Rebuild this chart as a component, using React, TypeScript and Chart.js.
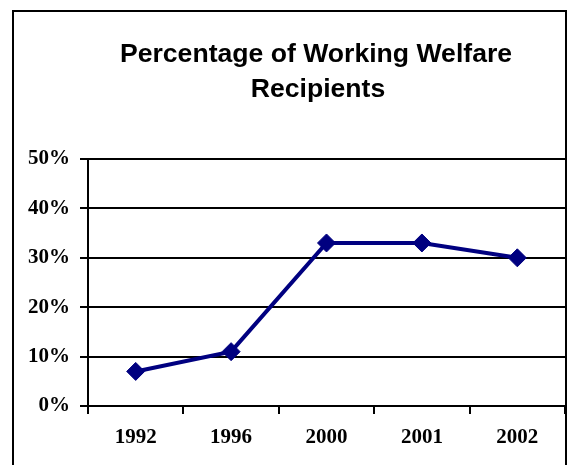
import React, { useEffect, useRef } from "react";
import { Chart, registerables } from "chart.js";

Chart.register(...registerables);

const categories = ["1992", "1996", "2000", "2001", "2002"];
const workingPct = [7, 11, 33, 33, 30];
const yTicks = [0, 10, 20, 30, 40, 50];
const titleLines = ["Percentage of Working Welfare", "Recipients"];

const framePlugin = {
  id: "frameAndTitle",
  beforeDraw(chart: any) {
    const ctx = chart.ctx;
    ctx.save();
    ctx.fillStyle = "#ffffff";
    ctx.fillRect(0, 0, chart.width, chart.height);
    ctx.restore();
  },
  afterDraw(chart: any) {
    const ctx = chart.ctx;
    ctx.save();
    ctx.strokeStyle = "#000000";
    ctx.lineWidth = 2;
    ctx.strokeRect(13, 11, 553, chart.height + 20);
    ctx.fillStyle = "#000000";
    ctx.font = "bold 26.6px 'Liberation Sans', Arial, sans-serif";
    ctx.textAlign = "center";
    ctx.textBaseline = "alphabetic";
    ctx.fillText(titleLines[0], 316, 62);
    ctx.fillText(titleLines[1], 318, 97);
    ctx.restore();
  },
};

export default function App() {
  const ref = useRef<HTMLCanvasElement | null>(null);
  useEffect(() => {
    if (!ref.current) return;
    const tickFont = { family: "'Liberation Serif', 'Times New Roman', serif", weight: "bold" as const, size: 21 };
    const chart = new Chart(ref.current, {
      type: "line",
      data: {
        labels: categories,
        datasets: [
          {
            data: workingPct,
            borderColor: "#000080",
            backgroundColor: "#000080",
            borderWidth: 4,
            tension: 0,
            pointStyle: "rectRot",
            pointRadius: 9,
            pointHoverRadius: 9,
            pointBackgroundColor: "#000080",
            pointBorderColor: "#000080",
            pointBorderWidth: 1,
            clip: false as any,
          },
        ],
      },
      options: {
        responsive: false,
        animation: false,
        layout: { autoPadding: false, padding: { top: 159, right: 3, left: 0, bottom: 0 } },
        plugins: {
          legend: { display: false },
          title: { display: false },
          tooltip: { enabled: false },
        },
        scales: {
          x: {
            offset: true,
            afterFit(scale: any) {
              scale.height = 59;
              scale.paddingLeft = 0;
              scale.paddingRight = 0;
            },
            grid: {
              offset: true,
              drawOnChartArea: false,
              drawTicks: true,
              tickLength: 8,
              color: "#000000",
              lineWidth: 2,
            },
            border: { display: true, color: "#000000", width: 2 },
            ticks: { color: "#000000", font: tickFont, padding: 11, maxRotation: 0 },
          },
          y: {
            min: yTicks[0],
            max: yTicks[yTicks.length - 1],
            afterFit(scale: any) {
              scale.width = 88;
              scale.paddingTop = 0;
              scale.paddingBottom = 0;
            },
            afterBuildTicks(scale: any) {
              scale.ticks = yTicks.map((v) => ({ value: v }));
            },
            grid: {
              color: "#000000",
              lineWidth: 2,
              tickLength: 8,
              drawTicks: true,
            },
            border: { display: true, color: "#000000", width: 2 },
            ticks: {
              color: "#000000",
              font: tickFont,
              padding: 10,
              callback: (v: any) => v + "%",
            },
          },
        },
      },
      plugins: [framePlugin],
    });
    return () => chart.destroy();
  }, []);
  return (
    <div style={{ position: "absolute", left: 0, top: 0, width: 568, height: 465 }}>
      <canvas ref={ref} width={568} height={465} style={{ width: 568, height: 465, display: "block" }} />
    </div>
  );
}
